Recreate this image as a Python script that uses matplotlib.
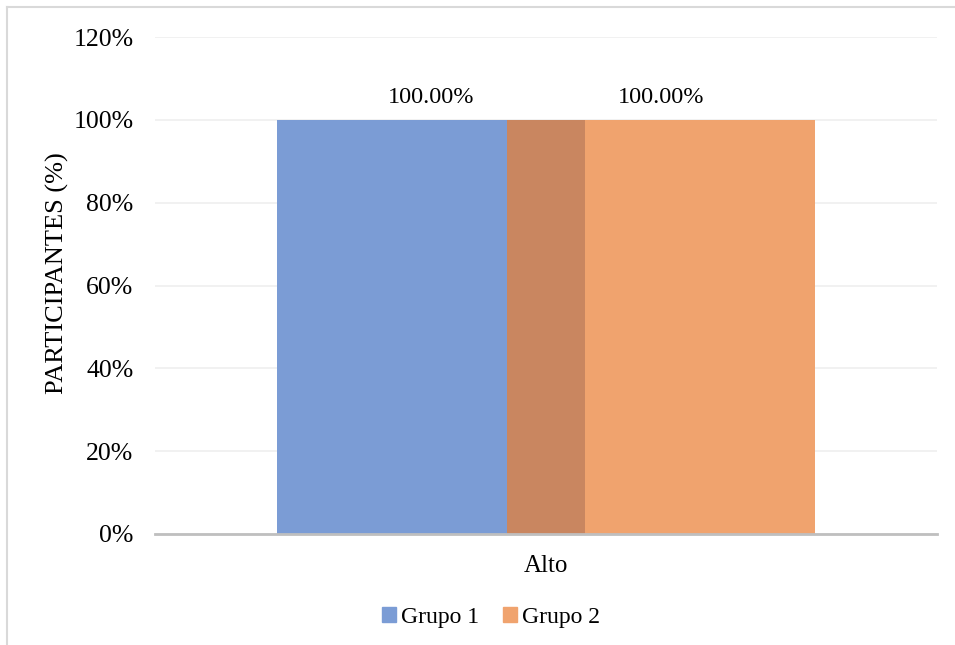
import matplotlib
matplotlib.use("Agg")
import matplotlib.pyplot as plt
from matplotlib.lines import Line2D
from matplotlib.patches import Patch

plt.rcParams['font.family'] = ['Liberation Serif', 'DejaVu Serif']

categories = ["Alto"]
series_names = ["Grupo 1", "Grupo 2"]
grupo1 = [1.00]
grupo2 = [1.00]
y_ticks = [0, 0.2, 0.4, 0.6, 0.8, 1.0, 1.2]
y_tick_labels = ["0%", "20%", "40%", "60%", "80%", "100%", "120%"]

blue = "#7B9CD5"
orange = "#F0A36E"
overlap_color = "#C98660"

fig = plt.figure(figsize=(9.55, 6.45), dpi=100)
ax = fig.add_axes([155 / 955, 1 - 534 / 645, (937 - 155) / 955, (534 - 37) / 645])

width = 0.394
offset = 0.147
x = list(range(len(categories)))

for i in x:
    b_left = i - offset - width / 2
    o_left = i + offset - width / 2
    ax.bar(i - offset, grupo1[i], width=width, color=blue, zorder=2)
    ax.bar(i + offset, grupo2[i], width=width, color=orange, zorder=2)
    # bars overlap in the middle: shade the shared part
    ov_left = o_left
    ov_right = b_left + width
    ov_h = min(grupo1[i], grupo2[i])
    ax.bar(ov_left, ov_h, width=ov_right - ov_left, align='edge', color=overlap_color, zorder=3)
    ax.text(i - offset, grupo1[i] + 0.028, f"{grupo1[i]*100:.2f}%", ha='center', va='bottom', fontsize=17.5)
    ax.text(i + offset, grupo2[i] + 0.028, f"{grupo2[i]*100:.2f}%", ha='center', va='bottom', fontsize=17.5)

ax.set_xlim(-0.5, len(categories) - 0.5)
ax.set_ylim(0, 1.2)
ax.set_yticks(y_ticks)
ax.set_yticklabels(y_tick_labels, fontsize=18.5)
ax.set_xticks(x)
ax.set_xticklabels(categories, fontsize=18)
ax.tick_params(axis='y', length=0, pad=15.5)
ax.tick_params(axis='x', length=0, pad=15)
ax.grid(axis='y', color='#EFEFEF', linewidth=1.2, zorder=0)
ax.set_axisbelow(True)
for side in ['top', 'right', 'left']:
    ax.spines[side].set_visible(False)
ax.spines['bottom'].set_color('#BFBFBF')
ax.spines['bottom'].set_linewidth(2)
ax.spines['bottom'].set_zorder(4)

fig.text(57 / 955, 1 - 273 / 645, "PARTICIPANTES (%)", rotation=90, ha='center', va='center', fontsize=19)

handles = [Patch(color=blue), Patch(color=orange)]
fig.legend(handles, series_names, loc='center', bbox_to_anchor=(491 / 955, 1 - 617 / 645),
           ncol=2, frameon=False, fontsize=17, handlelength=0.6, handleheight=0.6,
           handletextpad=0.2, columnspacing=1.0)

# outer frame
fig.add_artist(Line2D([7 / 955, 7 / 955], [0, 1 - 7 / 645], transform=fig.transFigure, color='#D9D9D9', linewidth=1.5))
fig.add_artist(Line2D([7 / 955, 1], [1 - 7 / 645, 1 - 7 / 645], transform=fig.transFigure, color='#D9D9D9', linewidth=1.5))

fig.savefig("out.png", dpi=100)
